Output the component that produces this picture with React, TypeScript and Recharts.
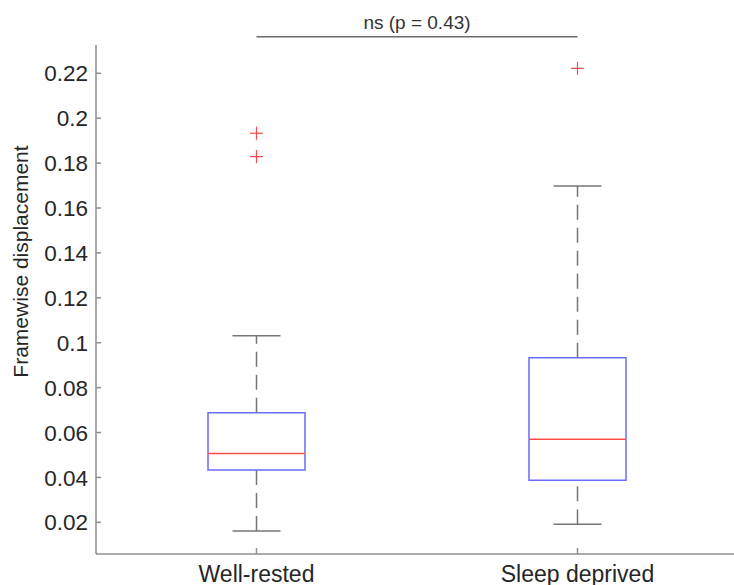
import { Bar, ComposedChart, ReferenceLine, Scatter, XAxis, YAxis } from "recharts";

const groups = ["Well-rested", "Sleep deprived"];
const whiskerLow = [0.0161, 0.0191];
const quart1 = [0.0433, 0.0387];
const medians = [0.0507, 0.057];
const quart3 = [0.0688, 0.0933];
const whiskerHigh = [0.1031, 0.1698];
const outliersA = [0.1933, 0.2222];
const outliersB = [0.1829, null];
const yTicks = [0.02, 0.04, 0.06, 0.08, 0.1, 0.12, 0.14, 0.16, 0.18, 0.2, 0.22];
const pLabel = "ns (p = 0.43)";
const bracketLevel = 0.2363;

// stacked segments: invisible base, lower whisker, lower half of box, upper half, upper whisker
const data = groups.map((name, i) => ({
	name,
	base: whiskerLow[i],
	lowW: quart1[i] - whiskerLow[i],
	boxLow: medians[i] - quart1[i],
	boxHigh: quart3[i] - medians[i],
	highW: whiskerHigh[i] - quart3[i],
	outA: outliersA[i],
	outB: outliersB[i],
}));

const FONT = "'Liberation Sans', Arial, sans-serif";
const AXIS = "#8f8f8f";
const WHISKER = "#767676";
const BLUE = "#6a6aff";
const RED = "#ff4a4a";
const TEXT = "#262626";

const Empty = () => <g />;

const LowWhisker = (p: any) => {
	const cx = p.x + p.width / 2;
	const bottom = p.y + p.height;
	return (
		<g>
			<line x1={cx} y1={bottom} x2={cx} y2={p.y} stroke={WHISKER} strokeWidth={1.5} strokeDasharray='15 8' />
			<line x1={cx - 24} x2={cx + 24} y1={bottom} y2={bottom} stroke={WHISKER} strokeWidth={1.5} />
		</g>
	);
};

const HighWhisker = (p: any) => {
	const cx = p.x + p.width / 2;
	const bottom = p.y + p.height;
	return (
		<g>
			<line x1={cx} y1={bottom} x2={cx} y2={p.y} stroke={WHISKER} strokeWidth={1.5} strokeDasharray='15 8' />
			<line x1={cx - 24} x2={cx + 24} y1={p.y} y2={p.y} stroke={WHISKER} strokeWidth={1.5} />
		</g>
	);
};

const BoxLow = (p: any) => {
	const { x, y, width, height } = p;
	return (
		<path
			d={`M${x},${y} L${x},${y + height} L${x + width},${y + height} L${x + width},${y}`}
			fill='none'
			stroke={BLUE}
			strokeWidth={1.5}
		/>
	);
};

const BoxHigh = (p: any) => {
	const { x, y, width, height } = p;
	return (
		<g>
			<path
				d={`M${x},${y + height} L${x},${y} L${x + width},${y} L${x + width},${y + height}`}
				fill='none'
				stroke={BLUE}
				strokeWidth={1.5}
			/>
			<line x1={x} x2={x + width} y1={y + height} y2={y + height} stroke={RED} strokeWidth={1.5} />
		</g>
	);
};

const plus = (key: string) => (p: any) => {
	const { cx, cy, payload } = p;
	if (payload && payload[key] == null) return <g />;
	if (cx == null || cy == null || isNaN(cy)) return <g />;
	return (
		<g>
			<line x1={cx - 6.5} x2={cx + 6.5} y1={cy} y2={cy} stroke={RED} strokeWidth={1.2} />
			<line x1={cx} x2={cx} y1={cy - 6.5} y2={cy + 6.5} stroke={RED} strokeWidth={1.2} />
		</g>
	);
};

const YTick = ({ x, y, payload }: any) => (
	<g>
		<line x1={x + 8} x2={x + 13} y1={y} y2={y} stroke={AXIS} strokeWidth={1.5} />
		<text x={x} y={y} dy='0.36em' textAnchor='end' fontSize={22.5} fill={TEXT} fontFamily={FONT}>
			{payload.value}
		</text>
	</g>
);

const XTick = ({ x, y, payload }: any) => (
	<g>
		<line x1={x} x2={x} y1={y} y2={y - 6} stroke={AXIS} strokeWidth={1.5} />
		<text x={x} y={y + 28} textAnchor='middle' fontSize={23} fill={TEXT} fontFamily={FONT}>
			{payload.value}
		</text>
	</g>
);

const YLabel = ({ viewBox }: any) => {
	const x = viewBox.x + 28;
	const y = viewBox.y + viewBox.height / 2 - 38;
	return (
		<text
			x={x}
			y={y}
			textAnchor='middle'
			transform={`rotate(-90 ${x} ${y})`}
			fontSize={21}
			fill={TEXT}
			fontFamily={FONT}
		>
			Framewise displacement
		</text>
	);
};

const BoxPlot = () => (
	<ComposedChart width={742} height={585} data={data} margin={{ top: 45, right: 4, bottom: 0, left: 0 }}>
		<XAxis
			dataKey='name'
			height={31}
			tickSize={0}
			tickMargin={0}
			tickLine={false}
			interval={0}
			tick={<XTick />}
			axisLine={{ stroke: AXIS, strokeWidth: 1.5 }}
		/>
		<YAxis
			type='number'
			width={96}
			domain={[0.0059, 0.2326]}
			allowDataOverflow
			ticks={yTicks}
			tickSize={0}
			tickMargin={8}
			tickLine={false}
			tick={<YTick />}
			axisLine={{ stroke: AXIS, strokeWidth: 1.5 }}
			label={{ content: <YLabel /> }}
		/>
		<Bar dataKey='base' stackId='box' barSize={97} shape={<Empty />} isAnimationActive={false} />
		<Bar dataKey='lowW' stackId='box' barSize={97} shape={<LowWhisker />} isAnimationActive={false} />
		<Bar dataKey='boxLow' stackId='box' barSize={97} shape={<BoxLow />} isAnimationActive={false} />
		<Bar dataKey='boxHigh' stackId='box' barSize={97} shape={<BoxHigh />} isAnimationActive={false} />
		<Bar dataKey='highW' stackId='box' barSize={97} shape={<HighWhisker />} isAnimationActive={false} />
		<Scatter dataKey='outA' shape={plus("outA")} isAnimationActive={false} />
		<Scatter dataKey='outB' shape={plus("outB")} isAnimationActive={false} />
		<ReferenceLine
			segment={[
				{ x: groups[0], y: bracketLevel },
				{ x: groups[1], y: bracketLevel },
			]}
			ifOverflow='visible'
			stroke='#6b6b6b'
			strokeWidth={1.5}
			label={{ value: pLabel, position: "top", offset: 8, fontSize: 19, fill: "#333", fontFamily: FONT }}
		/>
	</ComposedChart>
);

export default function App() {
	return (
		<div
			style={{
				position: "absolute",
				left: 0,
				top: 0,
				width: 734,
				height: 585,
				overflow: "hidden",
				background: "#fff",
			}}
		>
			<BoxPlot />
		</div>
	);
}
